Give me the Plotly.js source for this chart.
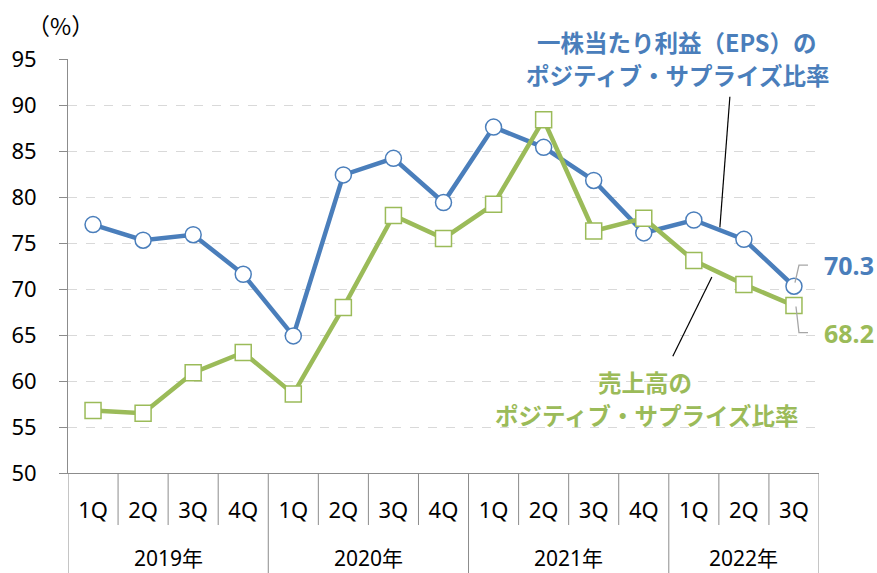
<!DOCTYPE html>
<html>
<head>
<meta charset="utf-8">
<script src="https://cdn.plot.ly/plotly-3.0.1.min.js"></script>
<style>html,body{margin:0;padding:0;background:#fff;}#chart{width:877px;height:573px;}</style>
</head>
<body>
<div id="chart"></div>
<script>
// ---- data ----
const years = ['2019年', '2020年', '2021年', '2022年'];
const quarters = ['1Q', '2Q', '3Q', '4Q'];
const quartersPerYear = [4, 4, 4, 3];
const epsRatio = [77.0, 75.3, 75.9, 71.6, 64.9, 82.4, 84.2, 79.4, 87.6, 85.4, 81.8, 76.1, 77.5, 75.4, 70.3];
const salesRatio = [56.8, 56.5, 60.9, 63.1, 58.6, 68.0, 78.0, 75.5, 79.2, 88.4, 76.3, 77.7, 73.1, 70.5, 68.2];
const epsLabel = ['一株当たり利益（EPS）の', 'ポジティブ・サプライズ比率'];
const salesLabel = ['売上高の', 'ポジティブ・サプライズ比率'];
const unitLabel = '（%）';

// ---- build categories ----
const cats = [], qText = [];
years.forEach((y, yi) => {
  for (let q = 0; q < quartersPerYear[yi]; q++) {
    cats.push(y + quarters[q]);
    qText.push(quarters[q]);
  }
});

const BLUE = '#4a7ebb', GREEN = '#9bbb59', AX = '#8c8c8c';
const FONT = '"Noto Sans", "Noto Sans CJK JP", sans-serif';
const JFONT = '"Noto Sans CJK JP", sans-serif';

const traces = [
  {
    x: cats, y: epsRatio, type: 'scatter', mode: 'lines+markers',
    line: {color: BLUE, width: 4.5},
    marker: {symbol: 'circle', size: 16, color: '#ffffff', line: {color: BLUE, width: 1.5}},
    hoverinfo: 'y'
  },
  {
    x: cats, y: salesRatio, type: 'scatter', mode: 'lines+markers',
    line: {color: GREEN, width: 4.5},
    marker: {symbol: 'square', size: 16, color: '#ffffff', line: {color: GREEN, width: 1.5}},
    hoverinfo: 'y'
  }
];

// ---- separators under the x axis ----
const shapes = [];
const qBottom = -52 / 414, yBottom = -100 / 414;
let idx = 0;
const yearBounds = [-0.5];
quartersPerYear.forEach(n => { idx += n; yearBounds.push(idx - 0.5); });
for (let i = 0; i < cats.length - 1; i++) {
  const b = i + 0.5;
  if (yearBounds.indexOf(b) >= 0) continue;
  shapes.push({type: 'line', xref: 'x', yref: 'paper', x0: b, x1: b, y0: 0, y1: qBottom,
    line: {color: AX, width: 1}});
}
yearBounds.forEach(b => {
  shapes.push({type: 'line', xref: 'x', yref: 'paper', x0: b, x1: b, y0: 0, y1: yBottom,
    line: {color: AX, width: 1}});
});
// leader lines
shapes.push({type: 'line', xref: 'x', yref: 'y', x0: 12.72, y0: 90.9, x1: 12.52, y1: 76.7,
  line: {color: '#000000', width: 1.2}});
shapes.push({type: 'line', xref: 'x', yref: 'y', x0: 12.36, y0: 71.3, x1: 11.58, y1: 62.7,
  line: {color: '#000000', width: 1.2}});
// value connectors
shapes.push({type: 'path', xref: 'x', yref: 'y', path: 'M 14.02 70.7 L 14.1 72.6 L 14.28 72.6',
  line: {color: '#a6a6a6', width: 1.3}});
shapes.push({type: 'path', xref: 'x', yref: 'y', path: 'M 14.04 68.1 L 14.1 65.25 L 14.28 65.25',
  line: {color: '#a6a6a6', width: 1.3}});

// ---- annotations ----
const annotations = [];
let start = 0;
years.forEach((y, yi) => {
  const n = quartersPerYear[yi];
  annotations.push({text: y, xref: 'x', yref: 'paper', x: start + (n - 1) / 2, y: -85 / 414,
    showarrow: false, xanchor: 'center', yanchor: 'middle', font: {family: FONT, size: 21, color: '#000'}});
  start += n;
});
annotations.push({text: unitLabel, xref: 'paper', yref: 'paper', x: -8 / 751, y: 1 + 34 / 414,
  showarrow: false, xanchor: 'center', yanchor: 'middle', font: {family: JFONT, size: 23, color: '#000'}});
// series labels
annotations.push({text: '<b>' + epsLabel[0] + '</b>', xref: 'paper', yref: 'paper', x: (677 - 68) / 751, y: 1 + 17 / 414,
  showarrow: false, xanchor: 'center', yanchor: 'middle', font: {family: JFONT, size: 23.5, color: BLUE}});
annotations.push({text: '<b>' + epsLabel[1] + '</b>', xref: 'paper', yref: 'paper', x: (677 - 68) / 751, y: 1 - 16 / 414,
  showarrow: false, xanchor: 'center', yanchor: 'middle', font: {family: JFONT, size: 23.5, color: BLUE}});
annotations.push({text: '<b>' + salesLabel[0] + '</b>', xref: 'paper', yref: 'paper', x: (645 - 68) / 751, y: (473 - 382) / 414,
  showarrow: false, xanchor: 'center', yanchor: 'middle', font: {family: JFONT, size: 23.5, color: GREEN}});
annotations.push({text: '<b>' + salesLabel[1] + '</b>', xref: 'paper', yref: 'paper', x: (646 - 68) / 751, y: (473 - 415) / 414,
  showarrow: false, xanchor: 'center', yanchor: 'middle', font: {family: JFONT, size: 23.5, color: GREEN}});
// end values
const last = cats.length - 1;
annotations.push({text: '<b>' + epsRatio[last].toFixed(1) + '</b>', xref: 'paper', yref: 'y', x: (822 - 68) / 751, y: 72.6,
  showarrow: false, xanchor: 'left', yanchor: 'middle', font: {family: FONT, size: 25, color: BLUE}});
annotations.push({text: '<b>' + salesRatio[last].toFixed(1) + '</b>', xref: 'paper', yref: 'y', x: (822 - 68) / 751, y: 65.2,
  showarrow: false, xanchor: 'left', yanchor: 'middle', font: {family: FONT, size: 25, color: GREEN}});

const layout = {
  width: 877, height: 573,
  margin: {l: 68, r: 58, t: 59, b: 100, pad: 0},
  paper_bgcolor: '#ffffff', plot_bgcolor: '#ffffff',
  showlegend: false,
  xaxis: {
    type: 'category', range: [-0.5, cats.length - 0.5],
    tickvals: cats, ticktext: qText,
    showgrid: false, zeroline: false,
    showline: true, linecolor: AX, linewidth: 1,
    ticks: '', ticklabelstandoff: 18,
    tickfont: {family: FONT, size: 22, color: '#000'}
  },
  yaxis: {
    range: [50, 95], dtick: 5, tick0: 50,
    showgrid: true, gridcolor: '#d9d9d9', griddash: 'dash', gridwidth: 1,
    zeroline: false,
    showline: true, linecolor: AX, linewidth: 1,
    ticks: 'outside', ticklen: 8, tickcolor: AX,
    ticklabelstandoff: 18,
    tickfont: {family: FONT, size: 22, color: '#000'}
  },
  shapes: shapes,
  annotations: annotations
};

Plotly.newPlot('chart', traces, layout, {staticPlot: true});
</script>
</body>
</html>
